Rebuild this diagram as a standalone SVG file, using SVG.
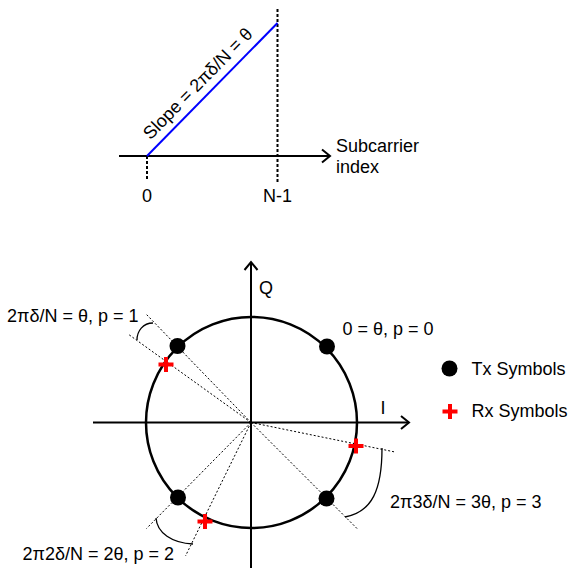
<svg xmlns="http://www.w3.org/2000/svg" width="570" height="568" viewBox="0 0 570 568">
<defs>
<style>
text{font-family:"Liberation Sans",Arial,sans-serif;font-size:18px;fill:#000}
.ax{stroke:#000;stroke-width:2;fill:none}
.dot2{stroke:#000;stroke-width:2;stroke-dasharray:3 2;fill:none}
.dot1{stroke:#000;stroke-width:1;stroke-dasharray:2 2;fill:none}
.arc{stroke:#000;stroke-width:1.3;fill:none}
.tx{fill:#000}
.rx{stroke:#ff0000;stroke-width:4;fill:none}
</style>
<marker id="arr" markerUnits="userSpaceOnUse" markerWidth="20" markerHeight="20" viewBox="-10 -10 20 20" refX="0" refY="0" orient="auto">
<path d="M-8,-6.5 L0,0 L-8,6.5" fill="none" stroke="#000" stroke-width="2"/>
</marker>
</defs>

<g id="connectors">
<line id="subcarrier-axis" class="ax" x1="119" y1="156" x2="330" y2="156" marker-end="url(#arr)"/>
<line class="dot2" x1="147" y1="156" x2="147" y2="181"/>
<line class="dot2" x1="277.5" y1="9" x2="277.5" y2="182"/>
<line id="slope-line" x1="147" y1="156" x2="277.5" y2="23" stroke="#0000ff" stroke-width="2"/>
<line id="i-axis" class="ax" x1="93" y1="422.5" x2="409" y2="422.5" marker-end="url(#arr)"/>
<line id="q-axis" class="ax" x1="251" y1="568" x2="251" y2="262" marker-end="url(#arr)"/>
<line class="dot1" x1="251" y1="422.5" x2="146.5" y2="314.5"/>
<line class="dot1" x1="251" y1="422.5" x2="128" y2="334"/>
<line class="dot1" x1="251" y1="422.5" x2="146.5" y2="528.5"/>
<line class="dot1" x1="251" y1="422.5" x2="185.5" y2="556"/>
<line class="dot1" x1="251" y1="422.5" x2="395" y2="452"/>
<line class="dot1" x1="251" y1="422.5" x2="357" y2="528.5"/>
<path class="arc" d="M153,323 C143,323 137,331 137,340"/>
<path class="arc" d="M156,518 C157,533 172,543 193,544"/>
<path class="arc" d="M382,448 C382,490 372,512 345,517"/>
</g>

<g id="circle">
<circle cx="251.5" cy="422.5" r="105.5" fill="none" stroke="#000" stroke-width="2.5"/>
</g>

<g id="top-labels">
<text x="147" y="202" text-anchor="middle">0</text>
<text x="277.5" y="202" text-anchor="middle">N-1</text>
<text x="336" y="151.5">Subcarrier</text>
<text x="336" y="172.5">index</text>
<text transform="translate(150.5,140.5) rotate(-45.6)">Slope = 2πδ/N = θ</text>
</g>

<g id="axis-labels">
<text x="380.5" y="413.5">I</text>
<text x="259" y="293.5">Q</text>
</g>

<g id="tx-symbols">
<circle class="tx" cx="177.5" cy="346" r="8"/>
<circle class="tx" cx="327" cy="346.5" r="8"/>
<circle class="tx" cx="178" cy="497.5" r="8"/>
<circle class="tx" cx="326.5" cy="498.5" r="8"/>
</g>

<g id="rx-symbols">
<path class="rx" d="M158.5,364.5 H173.5 M166,357 V372"/>
<path class="rx" d="M348.5,446 H363.5 M356,438.5 V453.5"/>
<path class="rx" d="M197.5,521.5 H212.5 M205,514 V529"/>
</g>

<g id="angle-labels">
<text x="7" y="321.5">2πδ/N = θ, p = 1</text>
<text x="342.5" y="335">0 = θ, p = 0</text>
<text x="390" y="508">2π3δ/N = 3θ, p = 3</text>
<text x="22.5" y="560">2π2δ/N = 2θ, p = 2</text>
</g>

<g id="legend">
<circle class="tx" cx="449.5" cy="368.5" r="8"/>
<text x="471.5" y="374.5">Tx Symbols</text>
<path class="rx" d="M442.5,411.5 H457.5 M450,404 V419"/>
<text x="471.5" y="416.5">Rx Symbols</text>
</g>
</svg>
